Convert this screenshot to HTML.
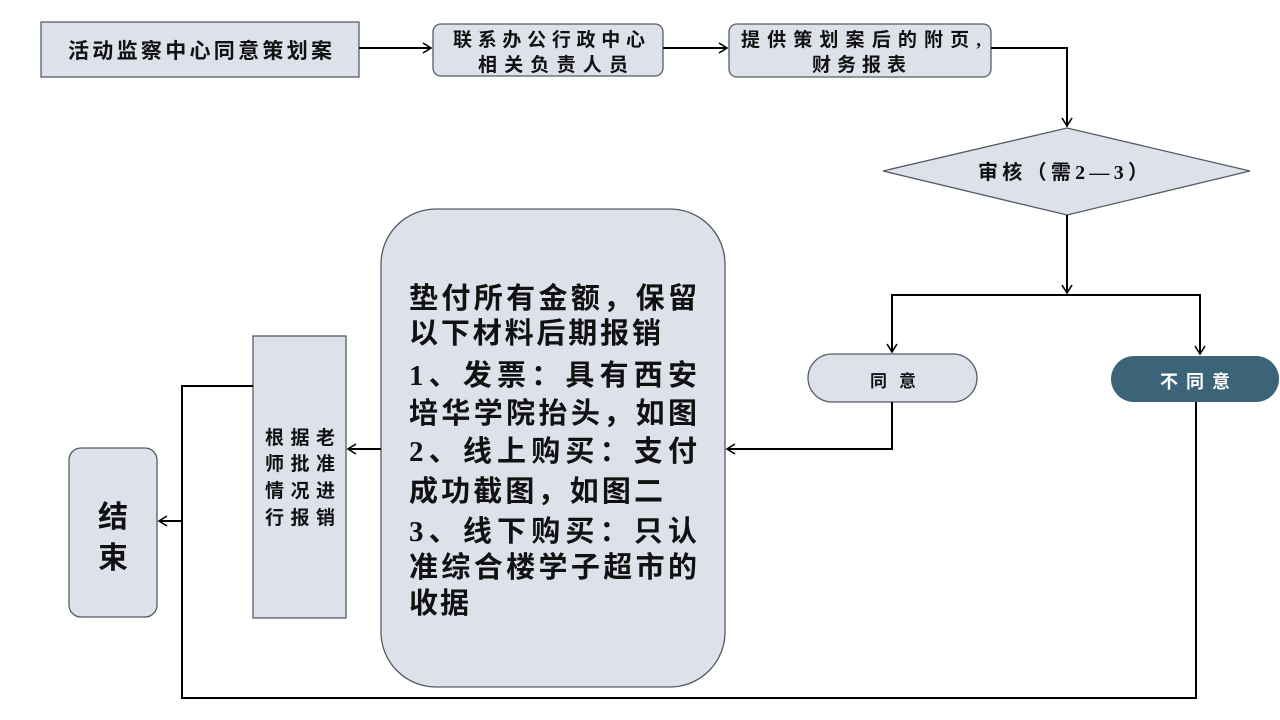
<!DOCTYPE html>
<html><head><meta charset="utf-8"><style>
html,body{margin:0;padding:0;background:#fff;width:1280px;height:720px;overflow:hidden}
svg text{font-family:"Liberation Serif","Noto Sans CJK SC",sans-serif;font-weight:bold;fill:#111}
</style></head><body>
<svg width="1280" height="720" viewBox="0 0 1280 720" xmlns="http://www.w3.org/2000/svg">
<defs><marker id="a" markerWidth="12" markerHeight="12" refX="10" refY="6" orient="auto" markerUnits="userSpaceOnUse"><path d="M2,1 L10,6 L2,11" fill="none" stroke="#000" stroke-width="1.6"/></marker></defs>
<g fill="#dde1ea" stroke="#555a66" stroke-width="1.3">
<rect x="41" y="22" width="318" height="55"/>
<rect x="433" y="24" width="230" height="52" rx="8"/>
<rect x="729" y="24" width="262" height="53" rx="8"/>
<polygon points="883,171 1067,128 1250,171 1067,215"/>
<rect x="808" y="354" width="169" height="48" rx="24"/>
<rect x="381" y="209" width="344" height="478" rx="55"/>
<rect x="253" y="336" width="93" height="282"/>
<rect x="69" y="448" width="88" height="169" rx="12"/>
</g>
<rect x="1111" y="356" width="168" height="46" rx="23" fill="#3c6478"/>
<g fill="none" stroke="#000" stroke-width="2">
<line x1="359" y1="48" x2="431" y2="48" marker-end="url(#a)"/>
<line x1="663" y1="48" x2="727" y2="48" marker-end="url(#a)"/>
<polyline points="991,48 1067,48 1067,126" marker-end="url(#a)"/>
<line x1="1067" y1="215" x2="1067" y2="293" marker-end="url(#a)"/>
<polyline points="892,352 892,295 1200,295 1200,354"/>
<line x1="892" y1="320" x2="892" y2="352" marker-end="url(#a)"/>
<line x1="1200" y1="320" x2="1200" y2="354" marker-end="url(#a)"/>
<polyline points="892,402 892,449 727,449" marker-end="url(#a)"/>
<line x1="381" y1="449" x2="348" y2="449" marker-end="url(#a)"/>
<polyline points="253,386 182,386 182,698 1196,698 1196,402"/>
<line x1="182" y1="521" x2="159" y2="521" marker-end="url(#a)"/>
</g>
<text x="68" y="58" font-size="21" textLength="264" lengthAdjust="spacing">活动监察中心同意策划案</text>
<text x="453" y="46" font-size="19" textLength="192" lengthAdjust="spacing">联系办公行政中心</text>
<text x="478" y="71" font-size="19" textLength="150" lengthAdjust="spacing">相关负责人员</text>
<text x="741" y="46" font-size="19" textLength="240" lengthAdjust="spacing">提供策划案后的附页,</text>
<text x="812" y="71" font-size="19" textLength="94" lengthAdjust="spacing">财务报表</text>
<text x="978" y="179" font-size="20" textLength="170" lengthAdjust="spacing">审核（需2—3）</text>
<text x="870" y="387" font-size="17" textLength="46" lengthAdjust="spacing">同意</text>
<text x="1160" y="388" font-size="18" textLength="70" lengthAdjust="spacing" style="fill:#fff">不同意</text>
<g font-size="29">
<text x="409" y="308" textLength="288" lengthAdjust="spacing">垫付所有金额，保留</text>
<text x="409" y="343" textLength="252" lengthAdjust="spacing">以下材料后期报销</text>
<text x="409" y="385" textLength="288" lengthAdjust="spacing">1、发票：具有西安</text>
<text x="409" y="423" textLength="288" lengthAdjust="spacing">培华学院抬头，如图</text>
<text x="409" y="461" textLength="288" lengthAdjust="spacing">2、线上购买：支付</text>
<text x="409" y="501" textLength="254" lengthAdjust="spacing">成功截图，如图二</text>
<text x="409" y="541" textLength="288" lengthAdjust="spacing">3、线下购买：只认</text>
<text x="409" y="577" textLength="288" lengthAdjust="spacing">准综合楼学子超市的</text>
<text x="409" y="613" textLength="60" lengthAdjust="spacing">收据</text>
</g>
<g font-size="19">
<text x="265" y="444" textLength="70" lengthAdjust="spacing">根据老</text>
<text x="265" y="470" textLength="70" lengthAdjust="spacing">师批准</text>
<text x="265" y="497" textLength="70" lengthAdjust="spacing">情况进</text>
<text x="265" y="524" textLength="70" lengthAdjust="spacing">行报销</text>
</g>
<text x="113" y="527" font-size="30" text-anchor="middle">结</text>
<text x="113" y="568" font-size="30" text-anchor="middle">束</text>
</svg>
</body></html>
